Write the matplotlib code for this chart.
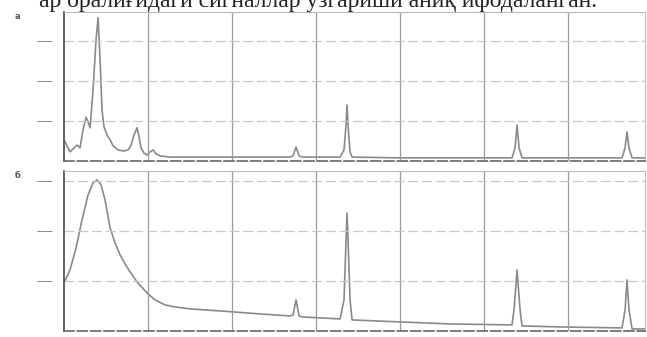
import matplotlib.pyplot as plt

# top spectrum (a): points
x_a = [0, 3.6, 7.1, 11.9, 15.5, 19, 22.6, 26.2, 28.6, 31, 34.5, 38.1, 40.5, 42.9, 45.2,
       47.6, 51.2, 54.8, 58.3, 64.3, 71.4, 76.2, 79.8, 83.3, 86.9, 89.3, 91.7, 95.2,
       98.8, 102.4, 106, 109.5, 114.3, 126.2, 161.9, 221.4, 269, 272.6, 276.2, 279.8,
       283.3, 328.6, 333.3, 335.7, 336.9, 338.1, 340.5, 342.9, 400, 459.5, 533.3,
       536.9, 539.3, 541.7, 545.2, 590.5, 664.3, 667.9, 670.2, 672.6, 676.2, 691.7]
y_a = [0.53, 0.38, 0.23, 0.33, 0.4, 0.33, 0.78, 1.1, 0.98, 0.83, 1.78, 3.03, 3.58, 2.53,
       1.28, 0.85, 0.65, 0.53, 0.38, 0.28, 0.25, 0.28, 0.4, 0.65, 0.83, 0.6, 0.33, 0.2,
       0.15, 0.23, 0.28, 0.18, 0.13, 0.1, 0.1, 0.1, 0.1, 0.13, 0.35, 0.13, 0.1, 0.1,
       0.28, 0.9, 1.4, 0.9, 0.23, 0.1, 0.08, 0.08, 0.08, 0.33, 0.9, 0.33, 0.08, 0.08,
       0.08, 0.33, 0.73, 0.33, 0.08, 0.08]

# bottom spectrum (б)
x_b = [0, 7.1, 14.3, 21.4, 28.6, 34.5, 39.3, 44, 48.8, 54.8, 60.7, 66.7, 72.6, 78.6,
       86.9, 98.8, 108.3, 120.2, 132.1, 150, 185.7, 233.3, 269, 272.6, 276.2, 279.8,
       283.3, 328.6, 333.3, 335.7, 336.9, 338.1, 340.5, 342.9, 400, 459.5, 533.3,
       535.7, 539.3, 542.9, 545.2, 590.5, 664.3, 667.9, 670.2, 672.6, 676.2, 691.7]
y_b = [0.96, 1.22, 1.66, 2.22, 2.72, 2.96, 3.02, 2.92, 2.62, 2.06, 1.76, 1.52, 1.34,
       1.18, 0.98, 0.76, 0.62, 0.52, 0.48, 0.44, 0.4, 0.34, 0.3, 0.32, 0.62, 0.3, 0.28,
       0.24, 0.62, 1.82, 2.36, 1.82, 0.62, 0.22, 0.18, 0.14, 0.12, 0.42, 1.22, 0.42,
       0.1, 0.08, 0.06, 0.42, 1.02, 0.42, 0.04, 0.04]

x_grid = [0, 100, 200, 300, 400, 500, 600]
y_grid = [1, 2, 3]
caption = "ар оралиғидаги сигналлар узгариши аниқ ифодаланган."

fig = plt.figure(figsize=(6.47, 3.37), dpi=100)
ax1 = fig.add_axes([0.099, 0.522, 0.898, 0.442])
ax2 = fig.add_axes([0.099, 0.018, 0.898, 0.475])

for ax, x, y, top, tag in [(ax1, x_a, y_a, 3.72, "a"), (ax2, x_b, y_b, 3.2, "б")]:
    ax.plot(x, y, color='#8a8a8a', lw=1.2)
    ax.set_xlim(0, 691.7)
    ax.set_ylim(0, top)
    ax.set_xticks(x_grid)
    ax.set_yticks(y_grid)
    ax.set_xticklabels([])
    ax.set_yticklabels(["——"] * 3, fontsize=6, color='#666666')
    ax.tick_params(length=0, pad=8)
    for xv in x_grid[1:]:
        ax.axvline(xv, color='#9a9a9a', lw=0.9)
    for yv in y_grid:
        ax.axhline(yv, color='#c8c8c8', lw=0.9, ls=(0, (8, 3)))
    ax.spines['left'].set_color('#555555')
    ax.spines['left'].set_linewidth(1.3)
    ax.spines['bottom'].set_color('#666666')
    ax.spines['bottom'].set_linewidth(1.2)
    ax.spines['bottom'].set_linestyle((0, (6, 2)))
    ax.spines['top'].set_color('#bbbbbb')
    ax.spines['right'].set_color('#bbbbbb')
    ax.text(-0.085, 0.97, tag, transform=ax.transAxes, fontsize=6, color='#555555',
            fontweight='bold', va='center')

# caption line of the scanned page, cut at the top edge as in the scan
fig.text(0.06, 0.995, caption, fontsize=17, family='Liberation Serif', va='center',
         color='#222222')

fig.savefig("out.png")
